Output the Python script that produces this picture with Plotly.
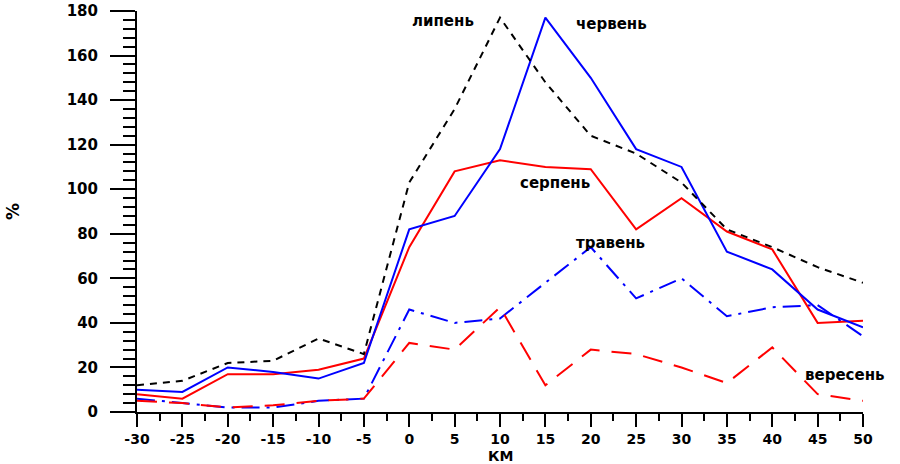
import plotly.graph_objects as go

# Distance along the profile, km
km = [-30, -25, -20, -15, -10, -5, 0, 5, 10, 15, 20, 25, 30, 35, 40, 45, 50]

# Monthly values, %
lipen = [12, 14, 22, 23, 33, 26, 103, 136, 177, 148, 124, 116, 103, 82, 74, 65, 58]
cherven = [10, 9, 20, 18, 15, 22, 82, 88, 118, 177, 150, 118, 110, 72, 64, 46, 38]
serpen = [8, 6, 17, 17, 19, 24, 74, 108, 113, 110, 109, 82, 96, 81, 73, 40, 41]
traven = [6, 4, 2, 2, 5, 6, 46, 40, 42, 58, 74, 51, 60, 43, 47, 48, 34]
veresen = [5, 4, 2, 3, 5, 6, 31, 28, 47, 12, 28, 26, 20, 13, 29, 8, 5]

x_ticks = list(range(-30, 51, 5))
y_ticks = list(range(0, 181, 20))

FONT = "DejaVu Sans"

series = [
    (traven, "#0000ff", "18px,7px,3px,7px"),
    (veresen, "#ff0000", "20px,12px"),
    (serpen, "#ff0000", "solid"),
    (cherven, "#0000ff", "solid"),
    (lipen, "#000000", "7px,6px"),
]

fig = go.Figure()
for vals, color, dash in series:
    fig.add_trace(go.Scatter(
        x=km, y=vals, mode="lines",
        line=dict(color=color, width=2, dash=dash),
        cliponaxis=False, showlegend=False, hoverinfo="skip",
    ))

labels = [
    ("липень", 3.7, 175.5),
    ("червень", 22.3, 174),
    ("серпень", 16.1, 103),
    ("травень", 22.2, 76),
    ("вересень", 48.0, 16.6),
]
for text, x, y in labels:
    fig.add_annotation(
        x=x, y=y, text=text, showarrow=False, xref="x", yref="y",
        font=dict(family=FONT, size=15, color="#000000", weight="bold"),
    )

# x-axis title, centred under the axis below the tick labels
fig.add_annotation(
    x=10, y=0, xref="x", yref="paper", yanchor="middle", yshift=-44,
    text="КМ", showarrow=False, borderpad=0,
    font=dict(family=FONT, size=14, color="#000000", weight="bold"),
)

fig.update_layout(
    width=900, height=464,
    margin=dict(l=137, r=37, t=11, b=52),
    paper_bgcolor="white", plot_bgcolor="white",
    xaxis=dict(
        range=[-30, 50], tickvals=x_ticks, ticktext=[str(v) for v in x_ticks],
        automargin=False,
        showline=True, linecolor="black", linewidth=2,
        ticks="outside", ticklen=13, tickwidth=1.5, tickcolor="black",
        minor=dict(dtick=2.5, tick0=0, ticks="outside", ticklen=7, tickwidth=1.5, tickcolor="black"),
        showgrid=False, zeroline=False,
        tickfont=dict(family=FONT, size=14, color="black", weight="bold"),
        ticklabelstandoff=0,
    ),
    yaxis=dict(
        range=[0, 180], tickvals=y_ticks, ticktext=[str(v) for v in y_ticks],
        automargin=False,
        showline=True, linecolor="black", linewidth=2,
        ticks="outside", ticklen=25, tickwidth=1.5, tickcolor="black",
        minor=dict(dtick=4, tick0=0, ticks="outside", ticklen=12, tickwidth=1.5, tickcolor="black"),
        showgrid=False, zeroline=False,
        tickfont=dict(family=FONT, size=15, color="black", weight="bold"),
        ticklabelstandoff=9,
        title=dict(text="%", standoff=43,
                   font=dict(family=FONT, size=17, color="black", weight="bold")),
    ),
)

fig.write_html("out.html")
